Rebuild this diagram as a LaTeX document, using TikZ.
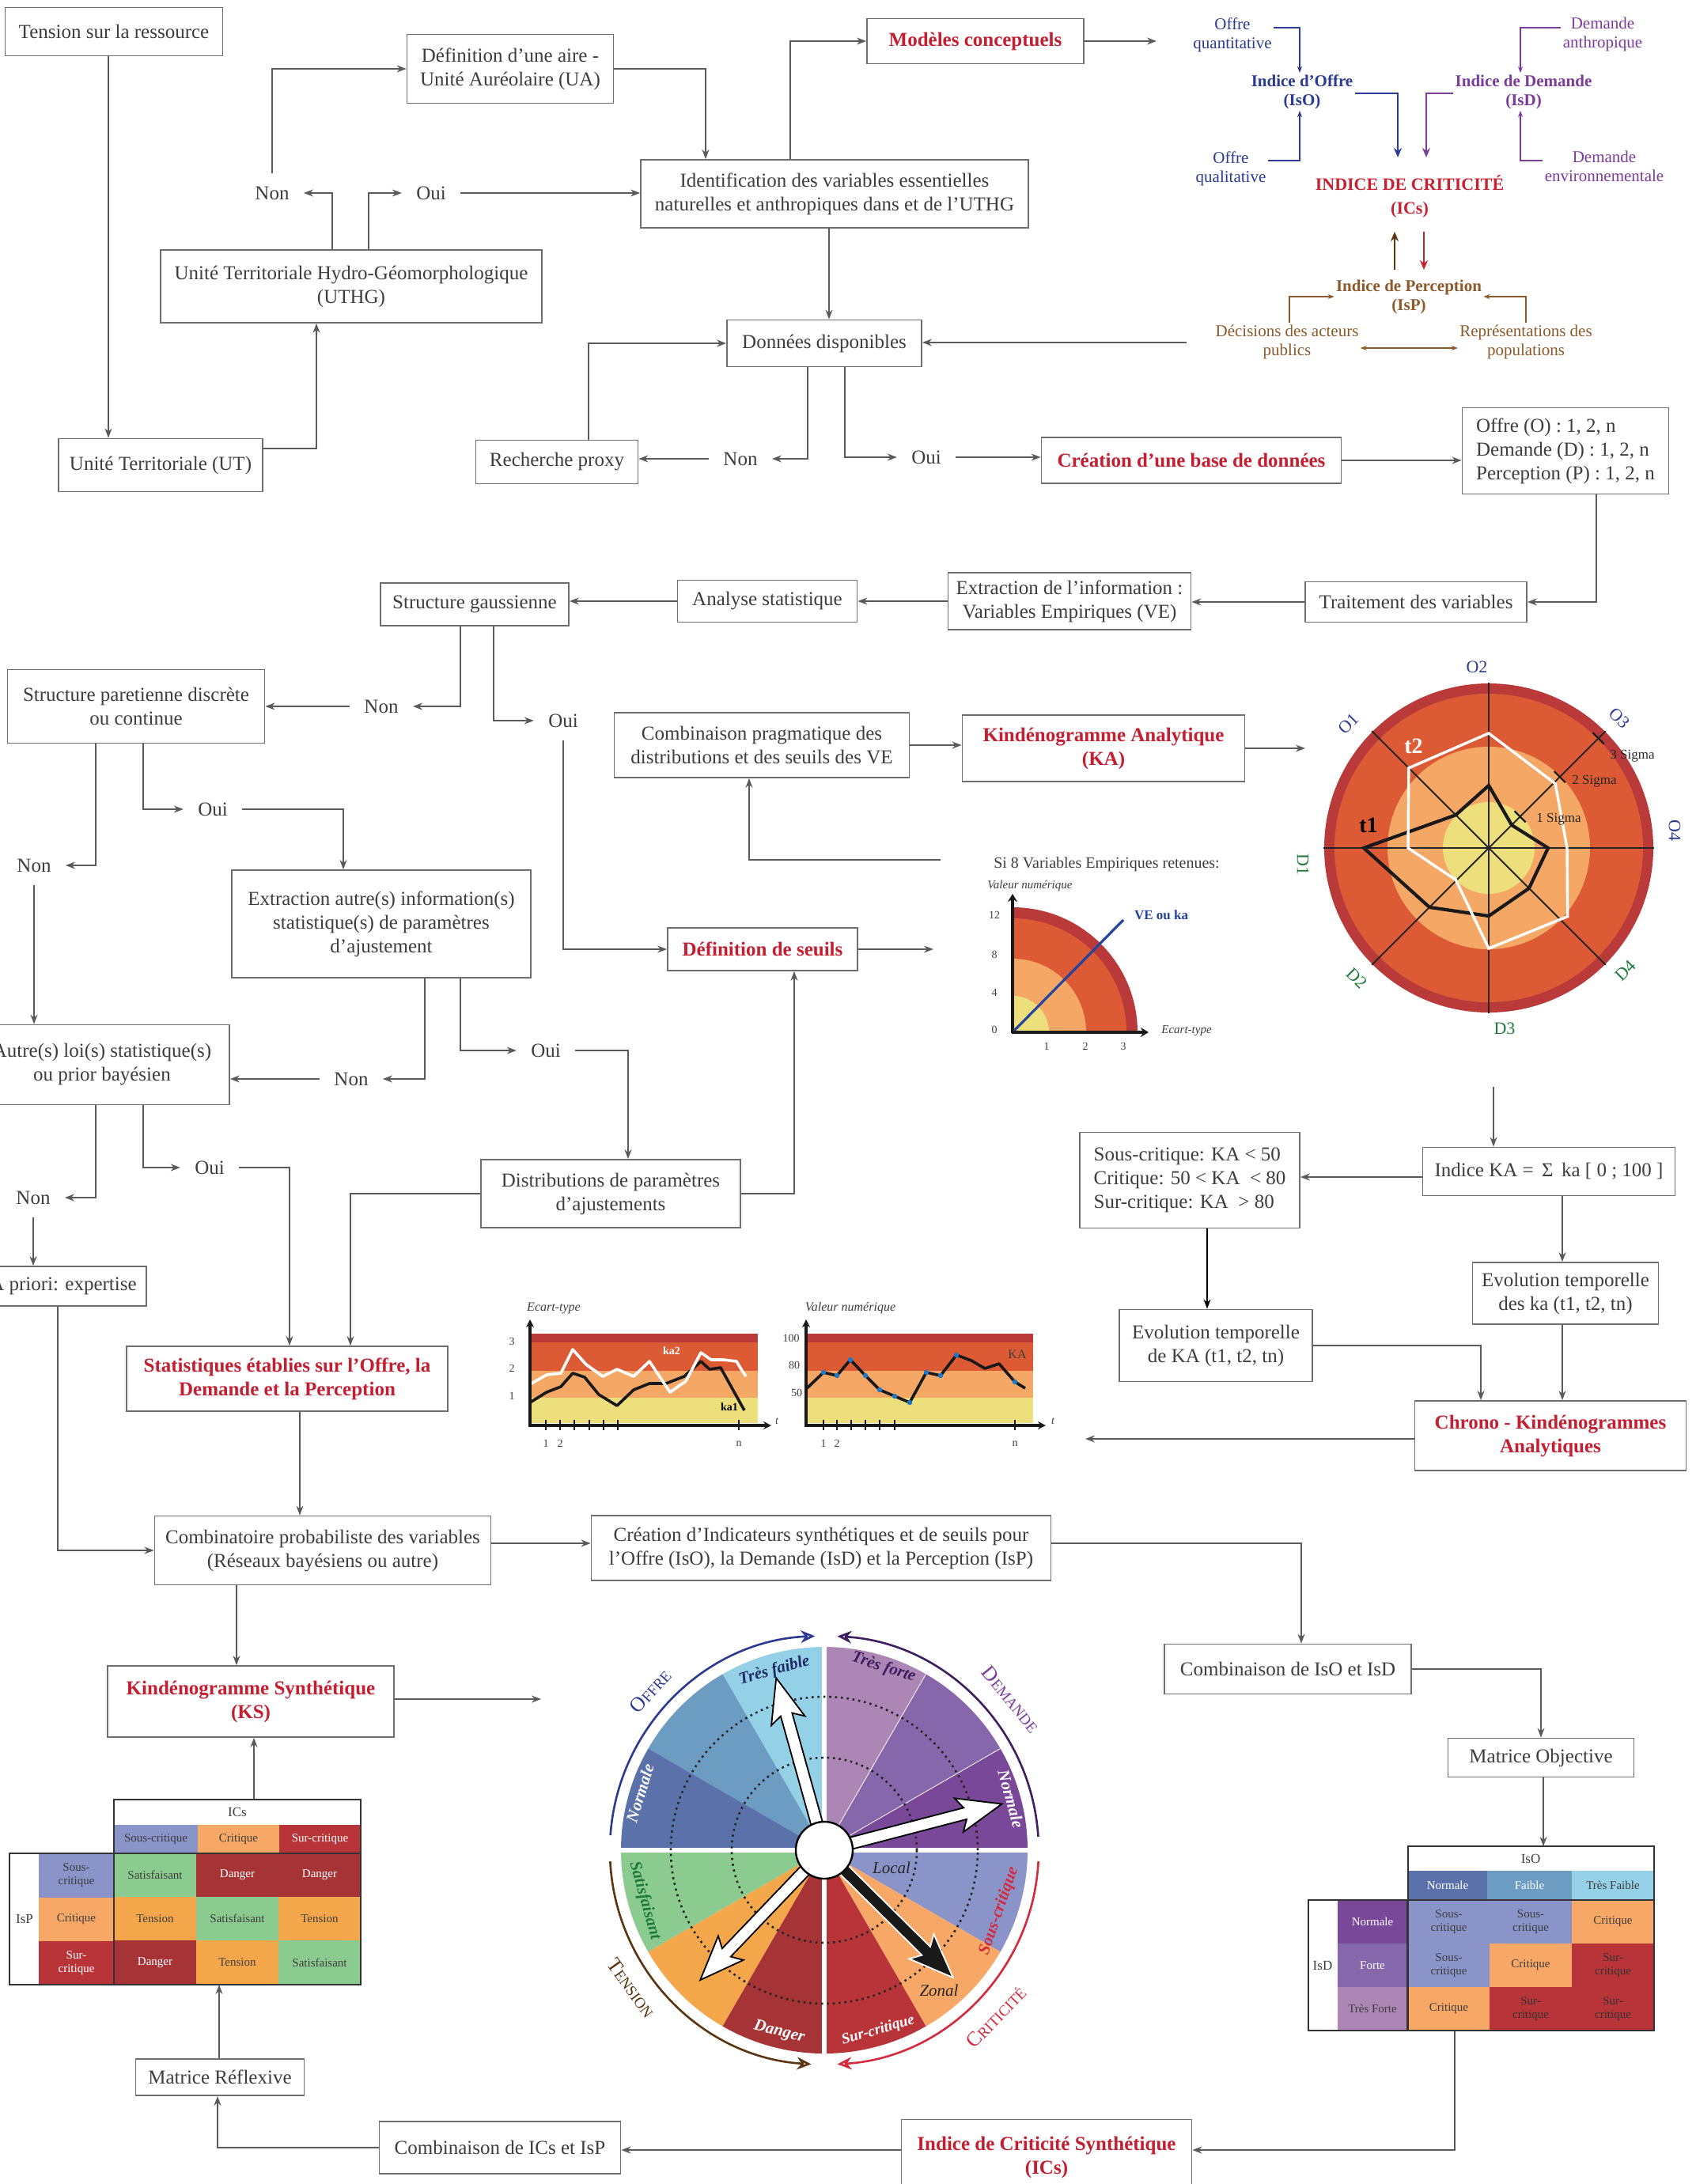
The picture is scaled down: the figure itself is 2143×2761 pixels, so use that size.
\documentclass[tikz,border=0pt]{standalone}
\usepackage{fontspec}
\setmainfont{Liberation Serif}
\usetikzlibrary{arrows.meta,calc}
\definecolor{boxgray}{HTML}{6E6E6E}
\definecolor{linegray}{HTML}{5A5A5A}
\definecolor{txt}{HTML}{3D3D3D}
\definecolor{myred}{HTML}{C41E30}
\definecolor{blueT}{HTML}{2B3B92}
\definecolor{purpT}{HTML}{7C3C9C}
\definecolor{purpD}{HTML}{3D1E5E}
\definecolor{brownT}{HTML}{8C5A2A}
\definecolor{brownD}{HTML}{5A3510}
\definecolor{redT}{HTML}{C8202F}
\definecolor{dred}{HTML}{B93A38}
\definecolor{ored}{HTML}{DC5B34}
\definecolor{lor}{HTML}{F5A866}
\definecolor{yel}{HTML}{ECDF7C}
\definecolor{vlblue}{HTML}{94D1E6}
\definecolor{mblue}{HTML}{6C9CC1}
\definecolor{dblue}{HTML}{5A72A9}
\definecolor{lpurp}{HTML}{AC86B5}
\definecolor{mpurp}{HTML}{8767AB}
\definecolor{dpurp}{HTML}{7A4899}
\definecolor{lav}{HTML}{8A94C9}
\definecolor{lor2}{HTML}{F7A866}
\definecolor{red2}{HTML}{B83438}
\definecolor{grn}{HTML}{8BCB90}
\definecolor{org2}{HTML}{F3A64A}
\definecolor{dred2}{HTML}{A63335}
\definecolor{blueL}{HTML}{2444A0}
\definecolor{dotblue}{HTML}{1E78C8}
\definecolor{grnT}{HTML}{1D7A3C}
\definecolor{critT}{HTML}{D42A3C}
\definecolor{tensT}{HTML}{5A3510}
\newcommand\fmain{\fontsize{12.5}{15}\selectfont}
\newcommand\fred{\fontsize{12.5}{15}\selectfont\bfseries}
\newcommand\ftr{\fontsize{10.5}{12}\selectfont}
\newcommand\ftab{\fontsize{7.5}{8.5}\selectfont}
\newcommand\fch{\fontsize{7}{8}\selectfont}
\newcommand\fwh{\fontsize{10.5}{11}\selectfont\bfseries\itshape}
\newcommand\tcell[7]{\fill[#5] (#1,#2) rectangle (#3,#4); \node[font=\ftab, text=#6, align=center, inner sep=0pt] at ({(#1+#3)/2},{(#2+#4)/2}) {#7};}
\newcommand\wsec[3]{\fill[#1] (0,0) -- (#2:257) arc[start angle=#2, end angle=#3, radius=128.5pt] -- cycle;}
\newcommand\needle[4]{\begin{scope}[rotate=#1]
\filldraw[fill=#3, draw=#4, line width=0.9pt, line join=miter] (0,-7.5) -- ({#2-48},-7.5) -- ({#2-56},-22) -- (#2,0) -- ({#2-56},22) -- ({#2-48},7.5) -- (0,7.5) -- cycle;
\end{scope}}
\tikzset{
 box/.style={draw=boxgray, line width=0.9pt, fill=white, text=txt, align=center, font=\fmain, inner sep=3pt},
 rbox/.style={box, text=myred, font=\fred},
 conn/.style={draw=linegray, line width=0.8pt, -{Stealth[length=6pt,width=4.5pt]}},
 pline/.style={draw=linegray, line width=0.8pt},
 lab/.style={text=txt, font=\fmain, inner xsep=9pt, inner ysep=8pt},
 trt/.style={font=\ftr, align=center, inner sep=1pt},
 cconn/.style={line width=0.6pt, -{Stealth[length=4pt,width=3pt]}},
 tconn/.style={line width=1.3pt, -{Stealth[length=6pt,width=5pt]}},
 chl/.style={font=\fch, text=txt, inner sep=1pt},
}
\begin{document}
\begin{tikzpicture}[x=0.5pt, y=-0.5pt]
\useasboundingbox (0,0) rectangle (2143,2761);
\fill[white] (0,0) rectangle (2143,2761);

% ---------------- boxes
\node[box, minimum width=137.5pt, minimum height=30.5pt] (n1) at (144,40) {Tension sur la ressource};
\node[box, minimum width=130.5pt, minimum height=43.5pt] (n2) at (645,87) {Définition d’une aire -\\Unité Auréolaire (UA)};
\node[rbox, minimum width=137pt, minimum height=28.5pt] (n3) at (1233,52) {Modèles conceptuels};
\node[box, minimum width=245pt, minimum height=43pt] (n4) at (1055,245) {Identification des variables essentielles\\naturelles et anthropiques dans et de l’UTHG};
\node[box, minimum width=241pt, minimum height=46pt] (n5) at (444,362) {Unité Territoriale Hydro-Géomorphologique\\(UTHG)};
\node[box, minimum width=129pt, minimum height=33.5pt] (n6) at (203,588) {Unité Territoriale (UT)};
\node[lab] (non1) at (344,244) {Non};
\node[lab] (oui1) at (545,244) {Oui};
\node[box, minimum width=123pt, minimum height=29.5pt] (n7) at (1042,434) {Données disponibles};
\node[box, minimum width=102.5pt, minimum height=27.5pt] (n8) at (704,584) {Recherche proxy};
\node[lab] (non2) at (936,580) {Non};
\node[lab] (oui2) at (1171,578) {Oui};
\node[rbox, minimum width=189.5pt, minimum height=29pt] (n9) at (1506,582) {Création d’une base de données};
\node[box, minimum width=130.5pt, minimum height=54.5pt, align=left] (n10) at (1979,570) {Offre (O) : 1, 2, n\\Demande (D) : 1, 2, n\\Perception (P) : 1, 2, n};
\node[box, minimum width=140pt, minimum height=25.5pt] (n11) at (1790,761) {Traitement des variables};
\node[box, minimum width=153.5pt, minimum height=36pt] (n12) at (1352,760) {Extraction de l’information :\\Variables Empiriques (VE)};
\node[box, minimum width=113.5pt, minimum height=26.5pt] (n13) at (970,760) {Analyse statistique};
\node[box, minimum width=119pt, minimum height=27pt] (n14) at (600,764) {Structure gaussienne};
\node[lab] (non3) at (482,893) {Non};
\node[lab] (oui3) at (712,911) {Oui};
\node[box, minimum width=162.5pt, minimum height=46.5pt] (n15) at (172,893) {Structure paretienne discrète\\ou continue};
\node[lab] (non4) at (43,1094) {Non};
\node[lab] (oui4) at (269,1023) {Oui};
\node[box, minimum width=189pt, minimum height=68pt] (n16) at (482,1168) {Extraction autre(s) information(s)\\statistique(s) de paramètres\\d’ajustement};
\node[rbox, minimum width=120pt, minimum height=27pt] (n17) at (964,1200) {Définition de seuils};
\node[box, minimum width=186.5pt, minimum height=41pt] (n18) at (963,942) {Combinaison pragmatique des\\distributions et des seuils des VE};
\node[rbox, minimum width=178.5pt, minimum height=42pt] (n19) at (1395,946) {Kindénogramme Analytique\\(KA)};
\node[box, minimum width=161pt, minimum height=50.5pt] (n20) at (129,1346) {Autre(s) loi(s) statistique(s)\\ou prior bayésien};
\node[lab] (non5) at (444,1364) {Non};
\node[lab] (oui5) at (690,1328) {Oui};
\node[box, minimum width=164pt, minimum height=43pt] (n21) at (772,1509) {Distributions de paramètres\\d’ajustements};
\node[lab] (non6) at (42,1514) {Non};
\node[lab] (oui6) at (265,1476) {Oui};
\node[box, minimum width=105pt, minimum height=25pt] (n22) at (80,1626) {A priori: expertise};
\node[rbox, minimum width=203pt, minimum height=41pt] (n23) at (363,1743) {Statistiques établies sur l’Offre, la\\Demande et la Perception};
\node[box, minimum width=212.5pt, minimum height=43.5pt] (n24) at (408,1960) {Combinatoire probabiliste des variables\\(Réseaux bayésiens ou autre)};
\node[box, minimum width=290.5pt, minimum height=41pt] (n25) at (1038,1957) {Création d’Indicateurs synthétiques et de seuils pour\\l’Offre (IsO), la Demande (IsD) et la Perception (IsP)};
\node[rbox, minimum width=181pt, minimum height=45pt] (n26) at (317,2151) {Kindénogramme Synthétique\\(KS)};
\node[box, minimum width=156pt, minimum height=31.5pt] (n27) at (1628,2110) {Combinaison de IsO et IsD};
\node[box, minimum width=117.5pt, minimum height=24.5pt] (n28) at (1948,2222) {Matrice Objective};
\node[rbox, minimum width=183.5pt, minimum height=47.5pt] (n29) at (1323,2727) {Indice de Criticité Synthétique\\(ICs)};
\node[box, minimum width=152.5pt, minimum height=33pt] (n30) at (632,2715) {Combinaison de ICs et IsP};
\node[box, minimum width=106.5pt, minimum height=23pt] (n31) at (278,2626) {Matrice Réflexive};
\node[box, minimum width=139pt, minimum height=60.5pt, align=left] (n32) at (1504,1492) {Sous-critique: KA < 50\\Critique: 50 < KA \ < 80\\Sur-critique: KA \ > 80};
\node[box, minimum width=159.5pt, minimum height=30.5pt] (n33) at (1958,1481) {Indice KA = \,Σ\, ka [ 0 ; 100 ]};
\node[box, minimum width=122pt, minimum height=45.5pt] (n34) at (1537,1701) {Evolution temporelle\\de KA (t1, t2, tn)};
\node[box, minimum width=117.5pt, minimum height=39pt] (n35) at (1979,1635) {Evolution temporelle\\des ka (t1, t2, tn)};
\node[rbox, minimum width=171.5pt, minimum height=44pt] (n36) at (1960,1815) {Chrono - Kindénogrammes\\Analytiques};

% free-end coordinates
\coordinate (modEnd) at (1462,52);
\coordinate (fbStart) at (1500,433);
\coordinate (radW) at (1650,946);
\coordinate (seuilEnd) at (1180,1200);
\coordinate (qcStart) at (1189,1087);
\coordinate (radS) at (1888,1374);
\coordinate (chronoEnd) at (1372,1819);
\coordinate (ksEnd) at (684,2148);
\coordinate (tAtop) at (321,2275);
\coordinate (tAbot) at (277,2509);
\coordinate (tBtop) at (1951,2334);
\coordinate (tBbot) at (1839,2567);

% ---------------- connectors
\draw[conn] (n1.south -| 137,0) -- (n6.north -| 137,0);
\draw[conn] (n6.east |- 0,567) -| (n5.south -| 400,0);
\draw[conn] (n5.north -| 420,0) |- (non1.east);
\draw[conn] (n5.north -| 466,0) |- (oui1.west);
\draw[conn] (non1.north) |- (n2.west);
\draw[conn] (oui1.east) -- (n4.west |- oui1.east);
\draw[conn] (n2.east) -| (n4.north -| 892,0);
\draw[conn] (n4.north -| 999,0) |- (n3.west);
\draw[conn] (n3.east) -- (modEnd);
\draw[conn] (n4.south -| 1048,0) -- (n7.north -| 1048,0);
\draw[conn] (n7.south -| 1021,0) |- (non2.east);
\draw[conn] (n7.south -| 1068,0) |- (oui2.west);
\draw[conn] (non2.west) -- (n8.east |- non2.west);
\draw[conn] (n8.north -| 744,0) |- (n7.west);
\draw[conn] (oui2.east) -- (n9.west |- oui2.east);
\draw[conn] (n9.east) -- (n10.west |- n9.east);
\draw[conn] (n10.south -| 2018,0) |- (n11.east);
\draw[conn] (n11.west) -- (n12.east |- n11.west);
\draw[conn] (n12.west) -- (n13.east |- n12.west);
\draw[conn] (n13.west) -- (n14.east |- n13.west);
\draw[conn] (fbStart) -- (n7.east |- fbStart);
\draw[conn] (n14.south -| 582,0) |- (non3.east);
\draw[conn] (n14.south -| 624,0) |- (oui3.west);
\draw[conn] (non3.west) -- (n15.east |- non3.west);
\draw[conn] (oui3.south) |- (n17.west);
\draw[conn] (n15.south -| 121,0) |- (non4.east);
\draw[conn] (n15.south -| 181,0) |- (oui4.west);
\draw[conn] (oui4.east) -| (n16.north -| 434,0);
\draw[conn] (non4.south) -- (n20.north -| non4.south);
\draw[conn] (n16.south -| 537,0) |- (non5.east);
\draw[conn] (n16.south -| 582,0) |- (oui5.west);
\draw[conn] (non5.west) -- (n20.east |- non5.west);
\draw[conn] (oui5.east) -| (n21.north -| 794,0);
\draw[conn] (n21.east) -| (n17.south -| 1004,0);
\draw[conn] (n21.west) -| (n23.north -| 443,0);
\draw[conn] (n20.south -| 121,0) |- (non6.east);
\draw[conn] (n20.south -| 181,0) |- (oui6.west);
\draw[conn] (oui6.east) -| (n23.north -| 366,0);
\draw[conn] (non6.south) -- (n22.north -| non6.south);
\draw[conn] (n22.south -| 73,0) |- (n24.west);
\draw[conn] (n23.south -| 379,0) -- (n24.north -| 379,0);
\draw[conn] (n24.east |- 0,1951) -- (n25.west |- 0,1951);
\draw[conn] (n25.east |- 0,1951) -| (n27.north -| 1645,0);
\draw[conn] (n24.south -| 299,0) -- (n26.north -| 299,0);
\draw[conn] (n26.east |- ksEnd) -- (ksEnd);
\draw[conn] (tAtop) -- (n26.south -| tAtop);
\draw[conn] (n27.east) -| (n28.north -| 1948,0);
\draw[conn] (n28.south -| tBtop) -- (tBtop);
\draw[conn] (tBbot) |- (n29.east |- 0,2718);
\draw[conn] (n29.west |- 0,2718) -- (n30.east |- 0,2718);
\draw[conn] (n30.west) -| (n31.south -| 275,0);
\draw[conn] (n31.north -| tAbot) -- (tAbot);
\draw[conn] (n18.east) -- (n19.west |- n18.east);
\draw[conn] (n19.east) -- (radW);
\draw[conn] (qcStart) -| (n18.south -| 947,0);
\draw[conn] (n17.east) -- (seuilEnd);
\draw[conn] (radS) -- (n33.north -| radS);
\draw[conn] (n33.west |- 0,1488) -- (n32.east |- 0,1488);
\draw[conn, draw=black, line width=1.2pt] (n32.south -| 1526,0) -- (n34.north -| 1526,0);
\draw[conn] (n33.south -| 1975,0) -- (n35.north -| 1975,0);
\draw[conn] (n35.south -| 1975,0) -- (n36.north -| 1975,0);
\draw[conn] (n34.east) -| (n36.north -| 1872,0);
\draw[conn] (n36.west |- chronoEnd) -- (chronoEnd);

% ---------------- top-right indices
\node[trt, text=blueT] (oq) at (1558,44) {Offre\\quantitative};
\node[trt, text=blueT, font=\ftr\bfseries] (iso) at (1646,116) {Indice d’Offre\\(IsO)};
\node[trt, text=blueT] (oql) at (1556,213) {Offre\\qualitative};
\node[trt, text=purpT, font=\ftr\bfseries] (isd) at (1926,116) {Indice de Demande\\(IsD)};
\node[trt, text=purpT] (da) at (2026,43) {Demande\\anthropique};
\node[trt, text=purpT] (de) at (2028,210) {Demande\\environnementale};
\node[trt, text=redT, font=\fontsize{11}{15}\selectfont\bfseries] (icsT) at (1782,248) {INDICE DE CRITICITÉ\\(ICs)};
\node[trt, text=brownT, font=\ftr\bfseries] (isp) at (1781,375) {Indice de Perception\\(IsP)};
\node[trt, text=brownT] (dec) at (1627,432) {Décisions des acteurs\\publics};
\node[trt, text=brownT] (rep) at (1929,432) {Représentations des\\populations};
\coordinate (icsA) at (1767,199);
\coordinate (icsB) at (1803,199);
\coordinate (icsC) at (1763,293);
\coordinate (icsD) at (1800,293);
\coordinate (ispA) at (1763,341);
\coordinate (ispB) at (1800,341);
\draw[cconn, blueT] (oq.east |- 0,35) -| (iso.north -| 1643,0);
\draw[cconn, blueT] (oql.east |- 0,203) -| (iso.south -| 1643,0);
\draw[cconn, purpT] (da.west |- 0,35) -| (isd.north -| 1922,0);
\draw[cconn, purpT] (de.west |- 0,203) -| (isd.south -| 1922,0);
\draw[tconn, blueT] (iso.east |- 0,118) -| (icsA);
\draw[tconn, purpT] (isd.west |- 0,118) -| (icsB);
\draw[tconn, brownD] (ispA) -- (icsC);
\draw[tconn, redT] (icsD) -- (ispB);
\draw[cconn, brownT] (dec.north -| 1630,0) |- (isp.west);
\draw[cconn, brownT] (rep.north -| 1929,0) |- (isp.east);
\draw[line width=0.6pt, brownT, {Stealth[length=4pt,width=3pt]}-{Stealth[length=4pt,width=3pt]}] (dec.east |- 0,440) -- (rep.west |- 0,440);

% ---------------- radar chart
\begin{scope}[shift={(1882,1072)}, x=0.5pt, y=0.5pt]
\fill[dred] (0,0) circle[radius=104pt];
\fill[ored] (0,0) circle[radius=97.5pt];
\fill[lor] (0,0) circle[radius=64pt];
\fill[yel] (0,0) circle[radius=29pt];
\foreach \a in {0,45,...,315} \draw[line width=1pt, black!85] (0,0) -- (\a:209);
\draw[line width=2.1pt, black!90, line join=miter] (90:79) -- (45:41) -- (0:75) -- (-45:72) -- (-90:86) -- (-135:106) -- (180:158) -- (135:59) -- cycle;
\draw[line width=1.7pt, white, line join=miter] (90:145) -- (44:117) -- (0:99) -- (-41:132) -- (-90:127) -- (-136:58) -- (180:102) -- (135:143) -- cycle;
\begin{scope}[rotate=45]
\foreach \r in {56,127,196} \draw[line width=1.1pt, black!90] (\r,-10) -- (\r,10);
\end{scope}
\node[anchor=west, font=\fontsize{8.5}{9}\selectfont, text=black!85, inner sep=0pt] at (60,36) {1 Sigma};
\node[anchor=west, font=\fontsize{8.5}{9}\selectfont, text=black!85, inner sep=0pt] at (105,84) {2 Sigma};
\node[anchor=west, font=\fontsize{8.5}{9}\selectfont, text=black!85, inner sep=0pt] at (153,116) {3 Sigma};
\node[text=white, font=\fontsize{14}{14}\selectfont\bfseries] at (-95,129) {t2};
\node[text=black, font=\fontsize{14}{14}\selectfont\bfseries] at (-152,29) {t1};
\node[text=blueT, font=\fontsize{11}{11}\selectfont] at (-15,229) {O2};
\node[text=blueT, font=\fontsize{11}{11}\selectfont, rotate=45] at (-177,157) {O1};
\node[text=blueT, font=\fontsize{11}{11}\selectfont, rotate=-45] at (165,164) {O3};
\node[text=blueT, font=\fontsize{11}{11}\selectfont, rotate=-90] at (235,22) {O4};
\node[text=grnT, font=\fontsize{11}{11}\selectfont, rotate=45] at (173,-155) {D4};
\node[text=grnT, font=\fontsize{11}{11}\selectfont] at (20,-228) {D3};
\node[text=grnT, font=\fontsize{11}{11}\selectfont, rotate=-45] at (-167,-165) {D2};
\node[text=grnT, font=\fontsize{11}{11}\selectfont, rotate=-90] at (-235,-21) {D1};
\end{scope}

% ---------------- quarter chart
\node[font=\fontsize{10}{11}\selectfont, text=txt] at (1399,1093) {Si 8 Variables Empiriques retenues:};
\node[font=\fontsize{7.5}{8}\selectfont\itshape, text=txt, anchor=west, inner sep=0pt] at (1248,1120) {Valeur numérique};
\begin{scope}[shift={(1280,1305)}, x=0.5pt, y=0.5pt]
\fill[dred] (0,0) -- (158,0) arc[start angle=0, end angle=90, radius=79pt] -- cycle;
\fill[ored] (0,0) -- (144,0) arc[start angle=0, end angle=90, radius=72pt] -- cycle;
\fill[lor] (0,0) -- (93,0) arc[start angle=0, end angle=90, radius=46.5pt] -- cycle;
\fill[yel] (0,0) -- (46,0) arc[start angle=0, end angle=90, radius=23pt] -- cycle;
\draw[blueL, line width=1.6pt] (0,0) -- (140,142);
\draw[line width=2pt, black!90, -{Stealth[length=5pt,width=6pt]}] (0,-1) -- (0,175);
\draw[line width=2pt, black!90, -{Stealth[length=5pt,width=6pt]}] (-1,0) -- (172,0);
\end{scope}
\node[chl] at (1257,1157) {12};
\node[chl] at (1257,1207) {8};
\node[chl] at (1257,1255) {4};
\node[chl] at (1257,1302) {0};
\node[chl] at (1323,1323) {1};
\node[chl] at (1372,1323) {2};
\node[chl] at (1420,1323) {3};
\node[font=\fontsize{8.5}{9}\selectfont\bfseries, text=blueL] at (1468,1157) {VE ou ka};
\node[font=\fontsize{7.5}{8}\selectfont\itshape, text=txt] at (1500,1303) {Ecart-type};

% ---------------- line charts
\fill[dred] (670,1686) rectangle (958,1697);
\fill[ored] (670,1697) rectangle (958,1733);
\fill[lor] (670,1733) rectangle (958,1767);
\fill[yel] (670,1767) rectangle (958,1799);
\draw[black!90, line width=1.8pt, line join=round] (670,1773) -- (691,1760) -- (709,1753) -- (724,1736) -- (739,1741) -- (757,1763) -- (780,1777) -- (801,1757) -- (821,1749) -- (842,1749) -- (865,1740) -- (886,1721) -- (897,1731) -- (911,1729) -- (941,1783);
\draw[white, line width=1.8pt, line join=round] (670,1750) -- (691,1738) -- (709,1736) -- (724,1706) -- (741,1725) -- (762,1740) -- (780,1731) -- (801,1740) -- (821,1721) -- (847,1760) -- (867,1746) -- (886,1710) -- (899,1719) -- (915,1719) -- (931,1721) -- (937,1731) -- (943,1740);
\draw[line width=1.6pt, black!90, -{Stealth[length=5pt,width=5pt]}] (670,1803) -- (670,1668);
\draw[line width=1.6pt, black!90, -{Stealth[length=5pt,width=5pt]}] (668,1802) -- (975,1802);
\foreach \t in {690,708,726,745,763,781,934} \draw[line width=1pt, black!90] (\t,1795) -- (\t,1808);
\node[font=\fontsize{7}{8}\selectfont\bfseries, text=white] at (849,1708) {ka2};
\node[font=\fontsize{7}{8}\selectfont\bfseries, text=black] at (922,1779) {ka1};
\node[font=\fontsize{8}{9}\selectfont\itshape, text=txt] at (700,1654) {Ecart-type};
\node[chl] at (647,1696) {3};
\node[chl] at (647,1730) {2};
\node[chl] at (647,1765) {1};
\node[chl] at (690,1825) {1};
\node[chl] at (708,1825) {2};
\node[chl] at (934,1825) {n};
\node[chl, font=\fch\itshape] at (982,1797) {t};

\fill[dred] (1019,1686) rectangle (1306,1697);
\fill[ored] (1019,1697) rectangle (1306,1733);
\fill[lor] (1019,1733) rectangle (1306,1767);
\fill[yel] (1019,1767) rectangle (1306,1799);
\draw[black!90, line width=1.8pt, line join=round] (1019,1756) -- (1041,1735) -- (1058,1739) -- (1075,1719) -- (1094,1739) -- (1112,1757) -- (1131,1765) -- (1150,1773) -- (1171,1735) -- (1189,1739) -- (1209,1713) -- (1228,1720) -- (1245,1730) -- (1263,1724) -- (1283,1747) -- (1296,1755);
\foreach \p in {(1041,1735),(1058,1739),(1075,1719),(1094,1739),(1112,1757),(1131,1765),(1150,1773),(1171,1735),(1189,1739),(1209,1713),(1283,1747)} \fill[dotblue] \p circle[radius=1.6pt];
\draw[line width=1.6pt, black!90, -{Stealth[length=5pt,width=5pt]}] (1019,1803) -- (1019,1668);
\draw[line width=1.6pt, black!90, -{Stealth[length=5pt,width=5pt]}] (1017,1802) -- (1322,1802);
\foreach \t in {1041,1058,1076,1094,1112,1131,1283} \draw[line width=1pt, black!90] (\t,1795) -- (\t,1808);
\node[font=\fontsize{8}{9}\selectfont, text=txt] at (1286,1712) {KA};
\node[font=\fontsize{8}{9}\selectfont\itshape, text=txt] at (1075,1654) {Valeur numérique};
\node[chl] at (1000,1692) {100};
\node[chl] at (1004,1726) {80};
\node[chl] at (1007,1761) {50};
\node[chl] at (1041,1825) {1};
\node[chl] at (1058,1825) {2};
\node[chl] at (1283,1825) {n};
\node[chl, font=\fch\itshape] at (1331,1797) {t};

% ---------------- wheel
\begin{scope}[shift={(1042,2339)}, x=0.5pt, y=0.5pt]
\wsec{vlblue}{90}{120}
\wsec{mblue}{120}{150}
\wsec{dblue}{150}{180}
\wsec{lpurp}{60}{90}
\wsec{mpurp}{30}{60}
\wsec{dpurp}{0}{30}
\wsec{lav}{-30}{0}
\wsec{lor2}{-60}{-30}
\wsec{red2}{-90}{-60}
\wsec{grn}{180}{210}
\wsec{org2}{210}{240}
\wsec{dred2}{240}{270}
\foreach \a in {30,60} \draw[white, line width=0.4pt] (0,0) -- (\a:257);
\draw[white, line width=3pt] (-262,0) -- (262,0);
\draw[white, line width=3pt] (0,-262) -- (0,262);
\draw[black!85, line width=1.3pt, dash pattern=on 1.3pt off 2.4pt] (0,0) circle[radius=58.5pt];
\draw[black!85, line width=1.3pt, dash pattern=on 1.3pt off 2.4pt] (0,0) circle[radius=97pt];
\draw[blueT, line width=1.3pt, -{Stealth[open, length=9pt, width=8pt]}] (176:271) arc[start angle=176, end angle=92.5, radius=135.5pt];
\draw[purpD, line width=1.3pt, -{Stealth[open, length=9pt, width=8pt]}] (3.6:271) arc[start angle=3.6, end angle=86.5, radius=135.5pt];
\draw[critT, line width=1.3pt, -{Stealth[open, length=9pt, width=8pt]}] (-3:271) arc[start angle=-3, end angle=-86.5, radius=135.5pt];
\draw[tensT, line width=1.3pt, -{Stealth[open, length=9pt, width=8pt]}] (183:271) arc[start angle=183, end angle=266.5, radius=135.5pt];
\needle{105.6}{226}{white}{black}
\needle{14.6}{232}{white}{black}
\needle{226.3}{227}{white}{black}
\needle{-44.7}{229}{black!90}{white}
\filldraw[fill=white, draw=black, line width=1.2pt] (0,0) circle[radius=18pt];
\end{scope}
\node[font=\fwh, text=blueT!70!black, rotate=15.5] at (979,2112) {Très faible};
\node[font=\fwh, text=purpD, rotate=-18] at (1117,2108) {Très forte};
\node[font=\fwh, text=white, rotate=72.8] at (809,2267) {Normale};
\node[font=\fwh, text=white, rotate=-74.6] at (1278,2274) {Normale};
\node[font=\fwh, text=grnT, rotate=-74.3] at (815,2403) {Satisfaisant};
\node[font=\fwh, text=critT, rotate=70.8] at (1263,2416) {Sous-critique};
\node[font=\fwh, text=white, rotate=-14] at (985,2569) {Danger};
\node[font=\fontsize{9.5}{10}\selectfont\bfseries\itshape, text=white, rotate=16.6] at (1110,2567) {Sur-critique};
\node[font=\fontsize{10.5}{11}\selectfont\itshape, text=black!85] at (1127,2361) {Local};
\node[font=\fontsize{10.5}{11}\selectfont\itshape, text=black!85] at (1187,2516) {Zonal};
\node[font=\fontsize{13}{13}\selectfont, text=blueT, rotate=47.6] at (822,2138) {O{\fontsize{9.5}{10}\selectfont FFRE}};
\node[font=\fontsize{13}{13}\selectfont, text=purpT, rotate=-51] at (1278,2148) {D{\fontsize{9.5}{10}\selectfont EMANDE}};
\node[font=\fontsize{13}{13}\selectfont, text=tensT, rotate=-54.5] at (798,2513) {T{\fontsize{9.5}{10}\selectfont ENSION}};
\node[font=\fontsize{13}{13}\selectfont, text=critT, rotate=45.8] at (1259,2550) {C{\fontsize{9.5}{10}\selectfont RITICITÉ}};

% ---------------- table ICs / IsP
\node[font=\fontsize{8.5}{9}\selectfont, text=txt] at (300,2291) {ICs};
\tcell{144}{2307}{250}{2343}{lav}{txt}{Sous-critique}
\tcell{250}{2307}{353}{2343}{lor2}{txt}{Critique}
\tcell{353}{2307}{456}{2343}{red2}{white}{Sur-critique}
\tcell{49}{2343}{144}{2399}{lav}{txt}{Sous-\\critique}
\tcell{49}{2399}{144}{2454}{lor2}{txt}{Critique}
\tcell{49}{2454}{144}{2509}{red2}{white}{Sur-\\critique}
\node[font=\fontsize{8.5}{9}\selectfont, text=txt] at (31,2426) {IsP};
\tcell{144}{2343}{248}{2398}{grn}{txt}{Satisfaisant}
\tcell{248}{2343}{352}{2398}{dred2}{white}{Danger}
\tcell{352}{2343}{456}{2398}{dred2}{white}{Danger}
\tcell{144}{2398}{248}{2453}{org2}{txt}{Tension}
\tcell{248}{2398}{352}{2453}{grn}{txt}{Satisfaisant}
\tcell{352}{2398}{456}{2453}{org2}{txt}{Tension}
\tcell{144}{2453}{248}{2509}{dred2}{white}{Danger}
\tcell{248}{2453}{352}{2509}{org2}{txt}{Tension}
\tcell{352}{2453}{456}{2509}{grn}{txt}{Satisfaisant}
\draw[line width=1.2pt, black!80] (144,2275) rectangle (456,2343);
\draw[line width=1.2pt, black!80] (12,2343) rectangle (144,2509);
\draw[line width=1.2pt, black!80] (144,2343) rectangle (456,2509);

% ---------------- table IsO / IsD
\node[font=\fontsize{8.5}{9}\selectfont, text=txt] at (1935,2350) {IsO};
\tcell{1780}{2365}{1880}{2402}{dblue}{white}{Normale}
\tcell{1880}{2365}{1987}{2402}{mblue}{white}{Faible}
\tcell{1987}{2365}{2091}{2402}{vlblue}{txt}{Très Faible}
\node[font=\fontsize{8.5}{9}\selectfont, text=txt] at (1672,2485) {IsD};
\tcell{1691}{2402}{1779}{2457}{dpurp}{white}{Normale}
\tcell{1691}{2457}{1779}{2512}{mpurp}{white}{Forte}
\tcell{1691}{2512}{1779}{2567}{lpurp}{txt}{Très Forte}
\tcell{1780}{2402}{1883}{2457}{lav}{txt}{Sous-\\critique}
\tcell{1883}{2402}{1987}{2457}{lav}{txt}{Sous-\\critique}
\tcell{1987}{2402}{2091}{2457}{lor2}{txt}{Critique}
\tcell{1780}{2457}{1883}{2512}{lav}{txt}{Sous-\\critique}
\tcell{1883}{2457}{1987}{2512}{lor2}{txt}{Critique}
\tcell{1987}{2457}{2091}{2512}{red2}{black!80}{Sur-\\critique}
\tcell{1780}{2512}{1883}{2567}{lor2}{txt}{Critique}
\tcell{1883}{2512}{1987}{2567}{red2}{black!80}{Sur-\\critique}
\tcell{1987}{2512}{2091}{2567}{red2}{black!80}{Sur-\\critique}
\draw[line width=1.2pt, black!80] (1780,2334) rectangle (2091,2402);
\draw[line width=1.2pt, black!80] (1654,2402) rectangle (1779,2567);
\draw[line width=1.2pt, black!80] (1780,2402) rectangle (2091,2567);
\end{tikzpicture}
\end{document}
